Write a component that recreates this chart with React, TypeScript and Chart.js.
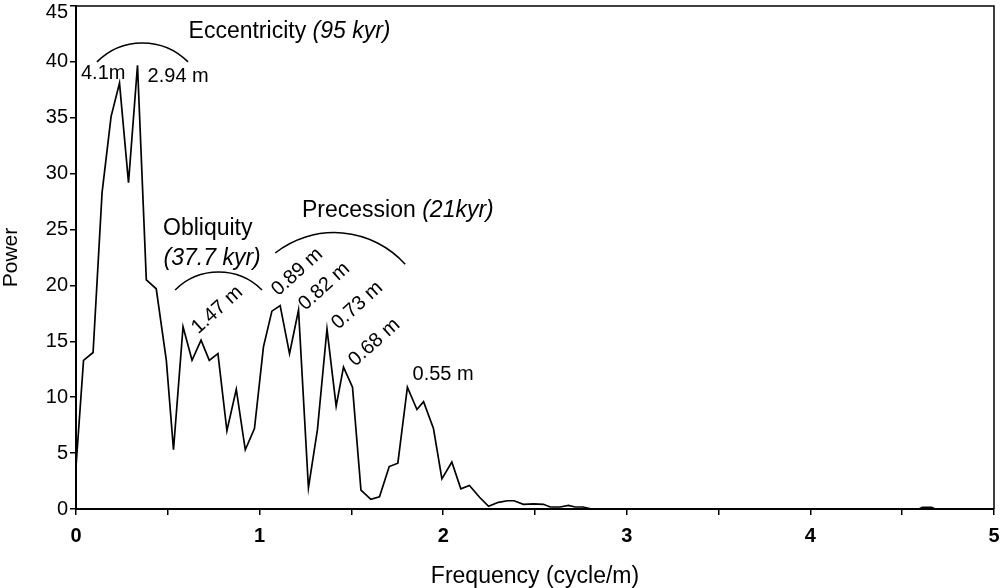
import React, { useEffect, useRef } from 'react';
import { Chart, registerables } from 'chart.js';

Chart.register(...registerables);

// ---- data ----
const frequency = [
  0, 0.041, 0.093, 0.142, 0.191, 0.237, 0.286, 0.335, 0.383, 0.437,
  0.492, 0.531, 0.583, 0.632, 0.681, 0.726, 0.773, 0.822, 0.873, 0.922,
  0.972, 1.021, 1.067, 1.112, 1.163, 1.212, 1.266, 1.315, 1.367, 1.417,
  1.457, 1.506, 1.552, 1.606, 1.653, 1.706, 1.753, 1.805, 1.857, 1.893,
  1.947, 1.993, 2.047, 2.096, 2.143, 2.198, 2.247, 2.301, 2.35, 2.386,
  2.437, 2.492, 2.546, 2.583, 2.637, 2.682, 2.719, 2.761, 2.81, 4.59,
  4.61, 4.66, 4.68, 5,
];
const power = [
  3.8, 13.3, 14.0, 28.3, 35.1, 38.1, 29.2, 39.7, 20.5, 19.7,
  13.3, 5.3, 16.3, 13.3, 15.1, 13.3, 13.9, 7.0, 10.7, 5.3,
  7.2, 14.5, 17.7, 18.2, 13.9, 17.8, 1.9, 7.1, 16.1, 9.2,
  12.7, 10.9, 1.7, 0.87, 1.1, 3.8, 4.1, 10.9, 8.9, 9.6,
  7.2, 2.7, 4.2, 1.8, 2.1, 1.05, 0.24, 0.6, 0.74, 0.74,
  0.42, 0.45, 0.42, 0.18, 0.18, 0.33, 0.18, 0.18, 0, 0,
  0.15, 0.15, 0, 0,
];
const xTickLabels = ['0', '1', '2', '3', '4', '5'];
const yTickValues = [0, 5, 10, 15, 20, 25, 30, 35, 40, 45];

const peakLabels = ['4.1m', '2.94 m', '1.47 m', '0.89 m', '0.82 m', '0.73 m', '0.68 m', '0.55 m'];
const cycleNames = ['Eccentricity ', 'Obliquity', 'Precession '];
const cyclePeriods = ['(95 kyr)', '(37.7 kyr)', '(21kyr)'];

// ---- annotation layout (data units) ----
const FONT = '"Liberation Sans", Arial, Helvetica, sans-serif';
const peakLabelLayout = [
  { f: 0.027, p: 38.47, rot: 0 },
  { f: 0.39, p: 38.2, rot: 0 },
  { f: 0.769, p: 17.8, rot: -42 },
  { f: 1.205, p: 21.2, rot: -42 },
  { f: 1.352, p: 19.9, rot: -42 },
  { f: 1.532, p: 18.2, rot: -42 },
  { f: 1.625, p: 14.9, rot: -42 },
  { f: 1.833, p: 11.54, rot: 0 },
];
const titleLayout = [
  { f: 0.613, p: 42.1, line2: false },
  { f: 0.474, p: 24.51, line2: true, f2: 0.477, p2: 21.83 },
  { f: 1.231, p: 26.15, line2: false },
];
const arcLayout = [
  [[0.114, 40.0], [0.359, 41.7], [0.61, 40.0]],
  [[0.54, 19.6], [0.785, 21.2], [1.013, 19.6]],
  [[1.085, 22.9], [1.366, 24.7], [1.793, 21.9]],
];
const TOP_LABEL_SHIFT = 6; // top y tick label is nudged down inside the canvas

function circleThrough(a: number[], b: number[], c: number[]) {
  const [x1, y1] = a, [x2, y2] = b, [x3, y3] = c;
  const d = 2 * (x1 * (y2 - y3) + x2 * (y3 - y1) + x3 * (y1 - y2));
  const ux = ((x1 * x1 + y1 * y1) * (y2 - y3) + (x2 * x2 + y2 * y2) * (y3 - y1) + (x3 * x3 + y3 * y3) * (y1 - y2)) / d;
  const uy = ((x1 * x1 + y1 * y1) * (x3 - x2) + (x2 * x2 + y2 * y2) * (x1 - x3) + (x3 * x3 + y3 * y3) * (x2 - x1)) / d;
  return { cx: ux, cy: uy, r: Math.hypot(x1 - ux, y1 - uy) };
}

const annotationPlugin = {
  id: 'annotations',
  afterDraw(chart: any) {
    const { ctx, chartArea, scales } = chart;
    const xs = scales.x, ys = scales.y;
    const px = (f: number) => xs.getPixelForValue(f);
    const py = (p: number) => ys.getPixelForValue(p);
    ctx.save();
    // frame (top and right)
    ctx.strokeStyle = '#000';
    ctx.lineWidth = 1.5;
    ctx.beginPath();
    ctx.moveTo(chartArea.left, chartArea.top);
    ctx.lineTo(chartArea.right, chartArea.top);
    ctx.lineTo(chartArea.right, chartArea.bottom);
    ctx.stroke();

    // top y tick label (kept inside the canvas)
    const topVal = yTickValues[yTickValues.length - 1];
    ctx.fillStyle = '#000';
    ctx.font = `20px ${FONT}`;
    ctx.textAlign = 'right';
    ctx.textBaseline = 'middle';
    ctx.fillText(String(topVal), chartArea.left - 8, py(topVal) + TOP_LABEL_SHIFT);

    // arcs
    ctx.lineWidth = 1.5;
    arcLayout.forEach((pts) => {
      const P = pts.map(([f, p]) => [px(f), py(p)]);
      const { cx, cy, r } = circleThrough(P[0], P[1], P[2]);
      const a0 = Math.atan2(P[0][1] - cy, P[0][0] - cx);
      const a1 = Math.atan2(P[2][1] - cy, P[2][0] - cx);
      ctx.beginPath();
      ctx.arc(cx, cy, r, a0, a1, false);
      ctx.stroke();
    });

    // cycle titles
    ctx.textBaseline = 'alphabetic';
    ctx.textAlign = 'left';
    titleLayout.forEach((t, i) => {
      const x = px(t.f), y = py(t.p);
      ctx.font = `23px ${FONT}`;
      ctx.fillText(cycleNames[i], x, y);
      if (t.line2) {
        ctx.font = `italic 23px ${FONT}`;
        ctx.fillText(cyclePeriods[i], px(t.f2 as number), py(t.p2 as number));
      } else {
        const w = ctx.measureText(cycleNames[i]).width;
        ctx.font = `italic 23px ${FONT}`;
        ctx.fillText(cyclePeriods[i], x + w, y);
      }
    });

    // peak labels
    ctx.font = `20px ${FONT}`;
    peakLabelLayout.forEach((l, i) => {
      const x = px(l.f), y = py(l.p);
      if (l.rot) {
        ctx.save();
        ctx.translate(x, y);
        ctx.rotate((l.rot * Math.PI) / 180);
        ctx.textAlign = 'center';
        ctx.textBaseline = 'middle';
        ctx.fillText(peakLabels[i], 0, 0);
        ctx.restore();
      } else {
        ctx.textAlign = 'left';
        ctx.textBaseline = 'alphabetic';
        ctx.fillText(peakLabels[i], x, y);
      }
    });
    ctx.restore();
  },
};

export default function App() {
  const ref = useRef<HTMLCanvasElement | null>(null);
  useEffect(() => {
    if (!ref.current) return;
    const topVal = yTickValues[yTickValues.length - 1];
    const chart = new Chart(ref.current, {
      type: 'line',
      data: {
        datasets: [
          {
            data: frequency.map((f, i) => ({ x: f, y: power[i] })),
            borderColor: '#000',
            borderWidth: 1.7,
            pointRadius: 0,
            tension: 0,
            fill: false,
          },
        ],
      },
      options: {
        animation: false,
        responsive: true,
        maintainAspectRatio: false,
        layout: { padding: { top: 6, right: 6, left: 0, bottom: 0 } },
        plugins: { legend: { display: false }, tooltip: { enabled: false } },
        scales: {
          x: {
            type: 'linear',
            min: 0,
            max: 5,
            afterFit: (s: any) => {
              s.height = 79;
              s.paddingLeft = 0;
              s.paddingRight = 0;
            },
            ticks: {
              stepSize: 0.5,
              autoSkip: false,
              maxRotation: 0,
              padding: 11,
              color: '#000',
              font: { family: FONT, size: 20, weight: 'bold', lineHeight: 1 },
              callback: (v: any) => {
                const idx = xTickLabels.indexOf(String(v));
                return idx >= 0 ? xTickLabels[idx] : '';
              },
            },
            grid: { display: true, drawOnChartArea: false, drawTicks: true, tickLength: 6, color: '#000', lineWidth: 1.5 },
            border: { display: true, color: '#000', width: 2 },
            title: {
              display: true,
              text: 'Frequency (cycle/m)',
              color: '#000',
              font: { family: FONT, size: 23, lineHeight: 1 },
              padding: { top: 0, bottom: 0 },
            },
          },
          y: {
            type: 'linear',
            min: 0,
            max: 45,
            afterFit: (s: any) => {
              s.width = 76;
              s.paddingTop = 0;
              s.paddingBottom = 0;
            },
            ticks: {
              stepSize: 5,
              autoSkip: false,
              padding: 2,
              color: '#000',
              font: { family: FONT, size: 20, lineHeight: 1 },
              callback: (v: any) => {
                const n = Number(v);
                return yTickValues.includes(n) && n !== topVal ? String(n) : '';
              },
            },
            grid: { display: true, drawOnChartArea: false, drawTicks: true, tickLength: 6, color: '#000', lineWidth: 1.5 },
            border: { display: true, color: '#000', width: 2 },
            title: {
              display: true,
              text: 'Power',
              color: '#000',
              font: { family: FONT, size: 21, lineHeight: 1.1 },
              padding: { top: 0, bottom: 0 },
            },
          },
        },
      },
      plugins: [annotationPlugin],
    });
    return () => chart.destroy();
  }, []);
  return (
    <div style={{ position: 'fixed', left: 0, top: 0, width: 1000, height: 588, background: '#fff' }}>
      <canvas ref={ref} />
    </div>
  );
}
